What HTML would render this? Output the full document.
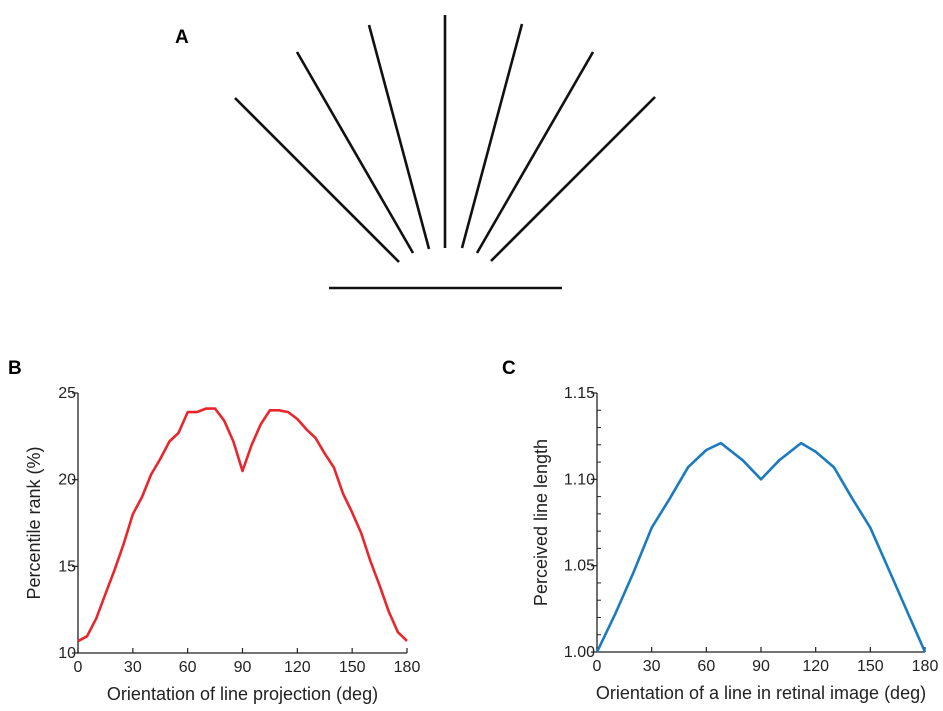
<!DOCTYPE html>
<html><head><meta charset="utf-8"><style>
html,body{margin:0;padding:0;background:#fff;}
svg{display:block;font-family:"Liberation Sans",Arial,sans-serif;}
</style></head><body>
<svg id="fig" width="943" height="711" viewBox="0 0 943 711">
<text x="175" y="43" font-size="19" font-weight="bold">A</text>
<g id="fan" stroke="#111" stroke-width="2.6">
<line x1="235" y1="98" x2="399" y2="262"/>
<line x1="297" y1="52" x2="413" y2="253"/>
<line x1="369" y1="25" x2="429" y2="249"/>
<line x1="445" y1="15" x2="445" y2="248"/>
<line x1="522" y1="24" x2="462" y2="248"/>
<line x1="593" y1="52" x2="477" y2="253"/>
<line x1="655" y1="97" x2="491" y2="261"/>
<line x1="329" y1="288" x2="562" y2="288"/>
</g>
<text x="8" y="374" font-size="19" font-weight="bold">B</text>
<text x="502" y="374" font-size="19" font-weight="bold">C</text>
<g id="chartB"></g>
<g id="chartC"></g>
</svg>
<script>
const xTicks = [0,30,60,90,120,150,180];
const bAngles = [0,5,10,15,20,25,30,35,40,45,50,55,60,65,70,75,80,85,90,95,100,105,110,115,120,125,130,135,140,145,150,155,160,165,170,175,180];
const bValues = [10.68,10.97,12.0,13.4,14.8,16.3,18.0,19.0,20.3,21.2,22.2,22.7,23.9,23.9,24.1,24.1,23.4,22.2,20.5,22.0,23.2,24.0,24.0,23.9,23.5,22.9,22.4,21.5,20.7,19.2,18.1,16.9,15.3,13.9,12.4,11.2,10.7];
const bYTicks = [10,15,20,25];
const cAngles = [0,10,20,30,40,50,60,68,80,90,100,112,120,130,140,150,160,170,180];
const cValues = [1.0,1.022,1.046,1.072,1.089,1.107,1.117,1.121,1.111,1.100,1.111,1.121,1.116,1.107,1.089,1.072,1.048,1.024,1.0];
const cYTicks = ["1.00","1.05","1.10","1.15"];
const cMinor = [1.01,1.02,1.03,1.04,1.06,1.07,1.08,1.09,1.11,1.12,1.13,1.14];
const NS="http://www.w3.org/2000/svg";
function mk(parent,tag,attrs,text){const e=document.createElementNS(NS,tag);for(const k in attrs)e.setAttribute(k,attrs[k]);if(text!==undefined)e.textContent=text;parent.appendChild(e);return e;}
function drawChart(g,opt){
  const sx=v=>opt.x0+(v-0)/180*(opt.x1-opt.x0);
  const sy=v=>opt.yb+(v-opt.ymin)/(opt.ymax-opt.ymin)*(opt.yt-opt.yb);
  const ax=mk(g,'path',{d:`M${opt.x0} ${opt.yt}V${opt.yb}H${opt.x1}`,fill:'none',stroke:'#222','stroke-width':1.3});
  
  
  xTicks.forEach(t=>{
    const x=sx(t);
    const tk=mk(g,'line',{x1:x,x2:x,y1:opt.yb,y2:opt.yb-5,stroke:'#222','stroke-width':1.2});
    
    
    const lb=mk(g,'text',{x:x,y:opt.yb+19,'font-size':16,'text-anchor':'middle',fill:'#222'},t);
    
    
  });
  opt.yTicks.forEach(t=>{
    const y=sy(+t);
    const tk=mk(g,'line',{x1:opt.x0,x2:opt.x0-6,y1:y,y2:y,stroke:'#222','stroke-width':1.2});
    
    
    const lb=mk(g,'text',{x:opt.x0-2,y:y+5,'font-size':16,'text-anchor':'end',fill:'#222'},t);
    
    
  });
  (opt.minor||[]).forEach(t=>{
    const y=sy(t);
    const tk=mk(g,'line',{x1:opt.x0,x2:opt.x0+4,y1:y,y2:y,stroke:'#222','stroke-width':1});
    
    
  });
  const d=opt.xs.map((a,i)=>(i?'L':'M')+sx(a).toFixed(1)+' '+sy(opt.ys[i]).toFixed(1)).join('');
  const ln=mk(g,'path',{d:d,fill:'none',stroke:opt.color,'stroke-width':2.6,'stroke-linejoin':'round'});
  
  
  const xt=mk(g,'text',{x:(opt.x0+opt.x1)/2,y:opt.yb+47,'font-size':18,'text-anchor':'middle',fill:'#222'},opt.xTitle);
  
  
  const yc=(opt.yt+opt.yb)/2;
  const yt=mk(g,'text',{x:opt.ytx,y:yc,'font-size':18,'text-anchor':'middle',fill:'#222',transform:`rotate(-90 ${opt.ytx} ${yc})`},opt.yTitle);
  
  
}
drawChart(document.getElementById('chartB'),{x0:78,x1:407,yt:393,yb:653,ymin:10,ymax:25,yTicks:bYTicks,xs:bAngles,ys:bValues,color:'#e8262b',lineName:'percentile-rank-line',xTitle:'Orientation of line projection (deg)',yTitle:'Percentile rank (%)',ytx:40});
drawChart(document.getElementById('chartC'),{x0:597,x1:925,yt:393,yb:652,ymin:1.0,ymax:1.15,yTicks:cYTicks,minor:cMinor,xs:cAngles,ys:cValues,color:'#1b7bbf',lineName:'perceived-length-line',xTitle:'Orientation of a line in retinal image (deg)',yTitle:'Perceived line length',ytx:547});
</script>
</body></html>
